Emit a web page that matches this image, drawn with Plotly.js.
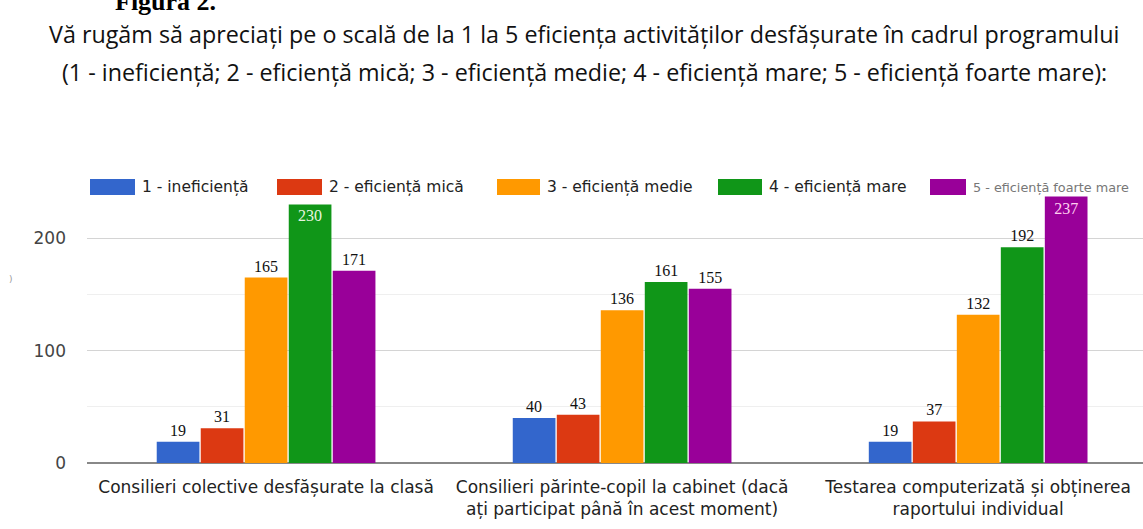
<!DOCTYPE html>
<html><head><meta charset="utf-8">
<script src="https://cdn.plot.ly/plotly-3.0.1.min.js"></script>
<style>html,body{margin:0;padding:0;background:#fff}#chart{width:1143px;height:529px}</style>
</head><body><div id="chart"></div>
<script>
const figureLabel = "Figura 2.";
const titleLines = [
  "Vă rugăm să apreciați pe o scală de la 1 la 5 eficiența activităților desfășurate în cadrul programului",
  "(1 - ineficiență; 2 - eficiență mică; 3 - eficiență medie; 4 - eficiență mare; 5 - eficiență foarte mare):"
];
const categories = [
  "Consilieri colective desfășurate la clasă",
  "Consilieri părinte-copil la cabinet (dacă<br>ați participat până în acest moment)",
  "Testarea computerizată și obținerea<br>raportului individual"
];
const seriesNames = ["1 - ineficiență", "2 - eficiență mică", "3 - eficiență medie", "4 - eficiență mare", "5 - eficiență foarte mare"];
const s1 = [19, 40, 19];
const s2 = [31, 43, 37];
const s3 = [165, 136, 132];
const s4 = [230, 161, 192];
const s5 = [171, 155, 237];
const yTicks = [0, 100, 200];

const seriesValues = [s1, s2, s3, s4, s5];
const colors = ["#3366cc", "#dc3912", "#ff9900", "#109618", "#990099"];
const insideColors = ["#ffffff", "#ffffff", "#ffffff", "#e8f5e0", "#ffd0f0"];
const sansFont = "DejaVu Sans, Arial, sans-serif";
const serifFont = "Liberation Serif, Times New Roman, serif";
const titleFont = "Open Sans, Roboto, Arial, sans-serif";

const traces = seriesValues.map((vals, i) => ({
  type: "bar",
  x: [0, 1, 2],
  y: vals,
  name: seriesNames[i],
  marker: {color: colors[i]},
  text: vals.map(String),
  textposition: vals.map(v => v > 220 ? "inside" : "outside"),
  insidetextanchor: "end",
  insidetextfont: {family: serifFont, size: 16, color: insideColors[i]},
  outsidetextfont: {family: serifFont, size: 16, color: "#111"},
  textangle: 0,
  cliponaxis: false,
  showlegend: false,
  hoverinfo: "skip"
}));

// plot area geometry in pixels
const W = 1143, H = 529;
const L = 87, T = 182, B = 66;
const PW = W - L, PH = H - T - B;
const px = x => (x - L) / PW;
const py = y => (H - B - y) / PH;

// custom legend (Google-chart style wide swatches)
const legendX = [90, 277, 497, 718, 930];
const legendSwW = [45, 45, 43, 44, 36];
const shapes = [];
const annotations = [];
seriesNames.forEach((n, i) => {
  shapes.push({type: "rect", xref: "paper", yref: "paper",
    x0: px(legendX[i]), x1: px(legendX[i] + legendSwW[i]),
    y0: py(195), y1: py(179),
    fillcolor: colors[i], line: {width: 0}});
  annotations.push({xref: "paper", yref: "paper",
    x: px(legendX[i] + legendSwW[i] + 5), y: py(187),
    xanchor: "left", yanchor: "middle", showarrow: false, text: n,
    font: {family: sansFont, size: i === 4 ? 12.8 : 15.5, color: i === 4 ? "#777" : "#222"}});
});
annotations.push({xref: "paper", yref: "paper", x: px(113), y: py(18),
  xanchor: "left", yanchor: "bottom", showarrow: false, text: "<b>" + figureLabel + "</b>",
  font: {family: serifFont, size: 26, color: "#000"}});
annotations.push({xref: "paper", yref: "paper", x: px(584), y: py(34),
  xanchor: "center", yanchor: "middle", showarrow: false, text: titleLines[0],
  font: {family: titleFont, size: 23.3, color: "#111"}});
annotations.push({xref: "paper", yref: "paper", x: px(584), y: py(72),
  xanchor: "center", yanchor: "middle", showarrow: false, text: titleLines[1],
  font: {family: titleFont, size: 23.3, color: "#111"}});
annotations.push({xref: "paper", yref: "paper", x: px(11), y: py(279),
  xanchor: "center", yanchor: "middle", showarrow: false, text: ")",
  font: {family: sansFont, size: 9, color: "#999"}});

const layout = {
  width: W, height: H,
  margin: {l: L, r: 0, t: T, b: B, pad: 0},
  paper_bgcolor: "#fff", plot_bgcolor: "#fff",
  barmode: "group", bargap: 0.382, bargroupgap: 0.03,
  xaxis: {range: [-0.503, 2.463], tickvals: [0, 1, 2], ticktext: categories,
    showgrid: false, zeroline: false, showline: false, ticks: "",
    ticklabelstandoff: 12,
    tickfont: {family: sansFont, size: 17, color: "#222"}},
  yaxis: {range: [0, 250], tickvals: yTicks, ticktext: yTicks.map(String),
    showgrid: true, gridcolor: "#d4d4d4", gridwidth: 1,
    minor: {dtick: 50, showgrid: true, gridcolor: "#efefef", gridwidth: 1},
    zeroline: true, zerolinecolor: "#888", zerolinewidth: 2,
    showline: false, ticks: "", ticklabelstandoff: 20,
    tickfont: {family: sansFont, size: 17, color: "#444"}},
  shapes: shapes,
  annotations: annotations,
  showlegend: false
};
Plotly.newPlot("chart", traces, layout, {displayModeBar: false, staticPlot: true});
</script></body></html>
